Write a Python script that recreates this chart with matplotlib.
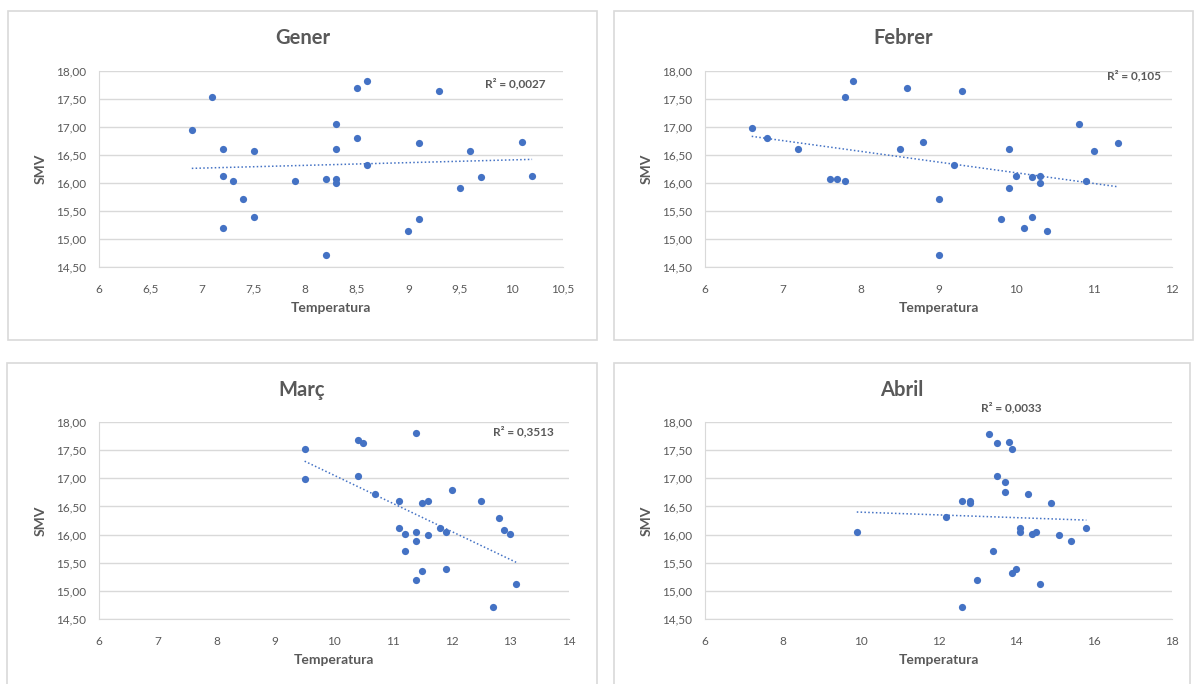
import numpy as np
import matplotlib
matplotlib.use('Agg')
import matplotlib.pyplot as plt
from matplotlib.patches import Rectangle
from matplotlib.ticker import FuncFormatter, MultipleLocator

plt.rcParams['font.family'] = ['Lato', 'DejaVu Sans']

# dades llegides del gràfic
gener_temp = [6.9, 7.1, 7.2, 7.2, 7.2, 7.3, 7.4, 7.5, 7.5, 7.9, 8.2, 8.2, 8.3, 8.3, 8.3,
              8.3, 8.5, 8.5, 8.6, 8.6, 9.0, 9.1, 9.1, 9.3, 9.5, 9.6, 9.7, 10.1, 10.2]
gener_smv = [16.95, 17.54, 16.61, 16.13, 15.20, 16.03, 15.71, 16.58, 15.39, 16.03, 16.07, 14.71, 17.06, 16.61, 16.07,
             16.00, 17.70, 16.80, 17.83, 16.32, 15.14, 15.36, 16.71, 17.64, 15.91, 16.58, 16.10, 16.74, 16.13]

febrer_temp = [6.6, 6.8, 7.2, 7.6, 7.7, 7.8, 7.8, 7.9, 8.5, 8.6, 8.8, 9.2, 9.0, 9.0, 9.3,
               9.8, 9.9, 9.9, 10.0, 10.1, 10.2, 10.2, 10.3, 10.3, 10.4, 10.8, 10.9, 11.0, 11.3]
febrer_smv = [16.98, 16.80, 16.61, 16.07, 16.07, 16.03, 17.54, 17.83, 16.61, 17.70, 16.74, 16.32, 15.71, 14.71, 17.64,
              15.36, 16.61, 15.91, 16.13, 15.20, 16.10, 15.39, 16.13, 16.00, 15.14, 17.06, 16.03, 16.58, 16.71]

marc_temp = [9.5, 9.5, 10.4, 10.5, 10.4, 11.4, 10.7, 11.1, 11.5, 11.6, 12.0, 12.5, 12.8, 12.9, 13.0,
             11.1, 11.2, 11.4, 11.4, 11.6, 11.8, 11.9, 11.2, 11.5, 11.9, 11.4, 13.1, 12.7]
marc_smv = [17.52, 16.98, 17.68, 17.62, 17.04, 17.81, 16.72, 16.59, 16.56, 16.59, 16.79, 16.59, 16.30, 16.08, 16.01,
            16.12, 16.01, 16.05, 15.89, 15.99, 16.12, 16.05, 15.70, 15.35, 15.38, 15.19, 15.12, 14.71]

abril_temp = [9.9, 12.2, 12.6, 12.8, 12.8, 13.3, 13.5, 13.8, 13.9, 13.5, 13.7, 13.7, 14.3, 14.9, 13.4,
              13.0, 13.9, 14.0, 14.1, 14.1, 14.4, 14.5, 15.1, 15.4, 15.8, 14.6, 12.6]
abril_smv = [16.05, 16.31, 16.59, 16.59, 16.56, 17.78, 17.62, 17.65, 17.52, 17.04, 16.94, 16.75, 16.72, 16.56, 15.70,
             15.19, 15.31, 15.38, 16.12, 16.05, 16.01, 16.05, 15.99, 15.89, 16.12, 15.12, 14.71]

titols = ['Gener', 'Febrer', 'Març', 'Abril']
r2_labels = ['R² = 0,0027', 'R² = 0,105', 'R² = 0,3513', 'R² = 0,0033']
x_limits = [(6, 10.5), (6, 12), (6, 14), (6, 18)]
x_steps = [0.5, 1, 1, 2]

W, H = 1195, 684
blau = '#4472C4'
gris_text = '#595959'
gris_linia = '#D9D9D9'

fig = plt.figure(figsize=(W / 100, H / 100), dpi=100)

# marcs dels gràfics: (x0, y0, x1, y1) en píxels
marcs = [(8, 11, 597, 340), (614, 11, 1193, 340), (7, 363, 597, 690), (614, 363, 1190, 690)]
eixos = [(99, 71, 563, 267), (705, 71, 1172, 267), (99, 422, 569, 619), (705, 422, 1172, 619)]
pos_r2 = [(515, 84), (1134, 76), (523, 432), (1011, 408)]

dades = [(gener_temp, gener_smv), (febrer_temp, febrer_smv), (marc_temp, marc_smv), (abril_temp, abril_smv)]

def coma(v, pos):
    if float(v).is_integer():
        return '%d' % v
    return ('%g' % v).replace('.', ',')

for i in range(4):
    x0, y0, x1, y1 = marcs[i]
    fig.patches.append(Rectangle((x0 / W, 1 - y1 / H), (x1 - x0) / W, (y1 - y0) / H,
                                 transform=fig.transFigure, fill=False,
                                 edgecolor=gris_linia, linewidth=1.2))
    fig.text((x0 + x1) / 2 / W, 1 - ((y0 + 27) / H), titols[i], ha='center', va='center',
             fontsize=14.5, fontweight='bold', color=gris_text)

    ax0, ay0, ax1, ay1 = eixos[i]
    ax = fig.add_axes([ax0 / W, 1 - ay1 / H, (ax1 - ax0) / W, (ay1 - ay0) / H])
    temp = np.array(dades[i][0])
    smv = np.array(dades[i][1])
    ax.scatter(temp, smv, s=27, color=blau, zorder=3, linewidths=0)

    # línia de tendència
    m, b = np.polyfit(temp, smv, 1)
    xs = np.array([temp.min(), temp.max()])
    ax.plot(xs, m * xs + b, linestyle=(0, (1, 1.5)), color=blau, linewidth=1.1, zorder=2)

    ax.set_xlim(*x_limits[i])
    ax.set_ylim(14.5, 18)
    ax.xaxis.set_major_locator(MultipleLocator(x_steps[i]))
    ax.yaxis.set_major_locator(MultipleLocator(0.5))
    ax.xaxis.set_major_formatter(FuncFormatter(coma))
    ax.yaxis.set_major_formatter(FuncFormatter(lambda v, p: ('%.2f' % v).replace('.', ',')))
    ax.grid(axis='y', color=gris_linia, linewidth=1)
    ax.set_axisbelow(True)
    for s in ['top', 'right']:
        ax.spines[s].set_visible(False)
    ax.spines['left'].set_color(gris_linia)
    ax.spines['bottom'].set_color(gris_linia)
    ax.tick_params(length=0, labelsize=8.5, labelcolor=gris_text)
    ax.tick_params(axis='x', pad=12)
    ax.tick_params(axis='y', pad=9)
    ax.set_xlabel('Temperatura', fontsize=10, fontweight='bold', color=gris_text, labelpad=5)
    ax.set_ylabel('SMV', fontsize=10, fontweight='bold', color=gris_text, labelpad=7)

    rx, ry = pos_r2[i]
    fig.text(rx / W, 1 - ry / H, r2_labels[i], ha='center', va='center',
             fontsize=8.5, fontweight='bold', color=gris_text)

fig.savefig('out.png', dpi=100, facecolor='white')
